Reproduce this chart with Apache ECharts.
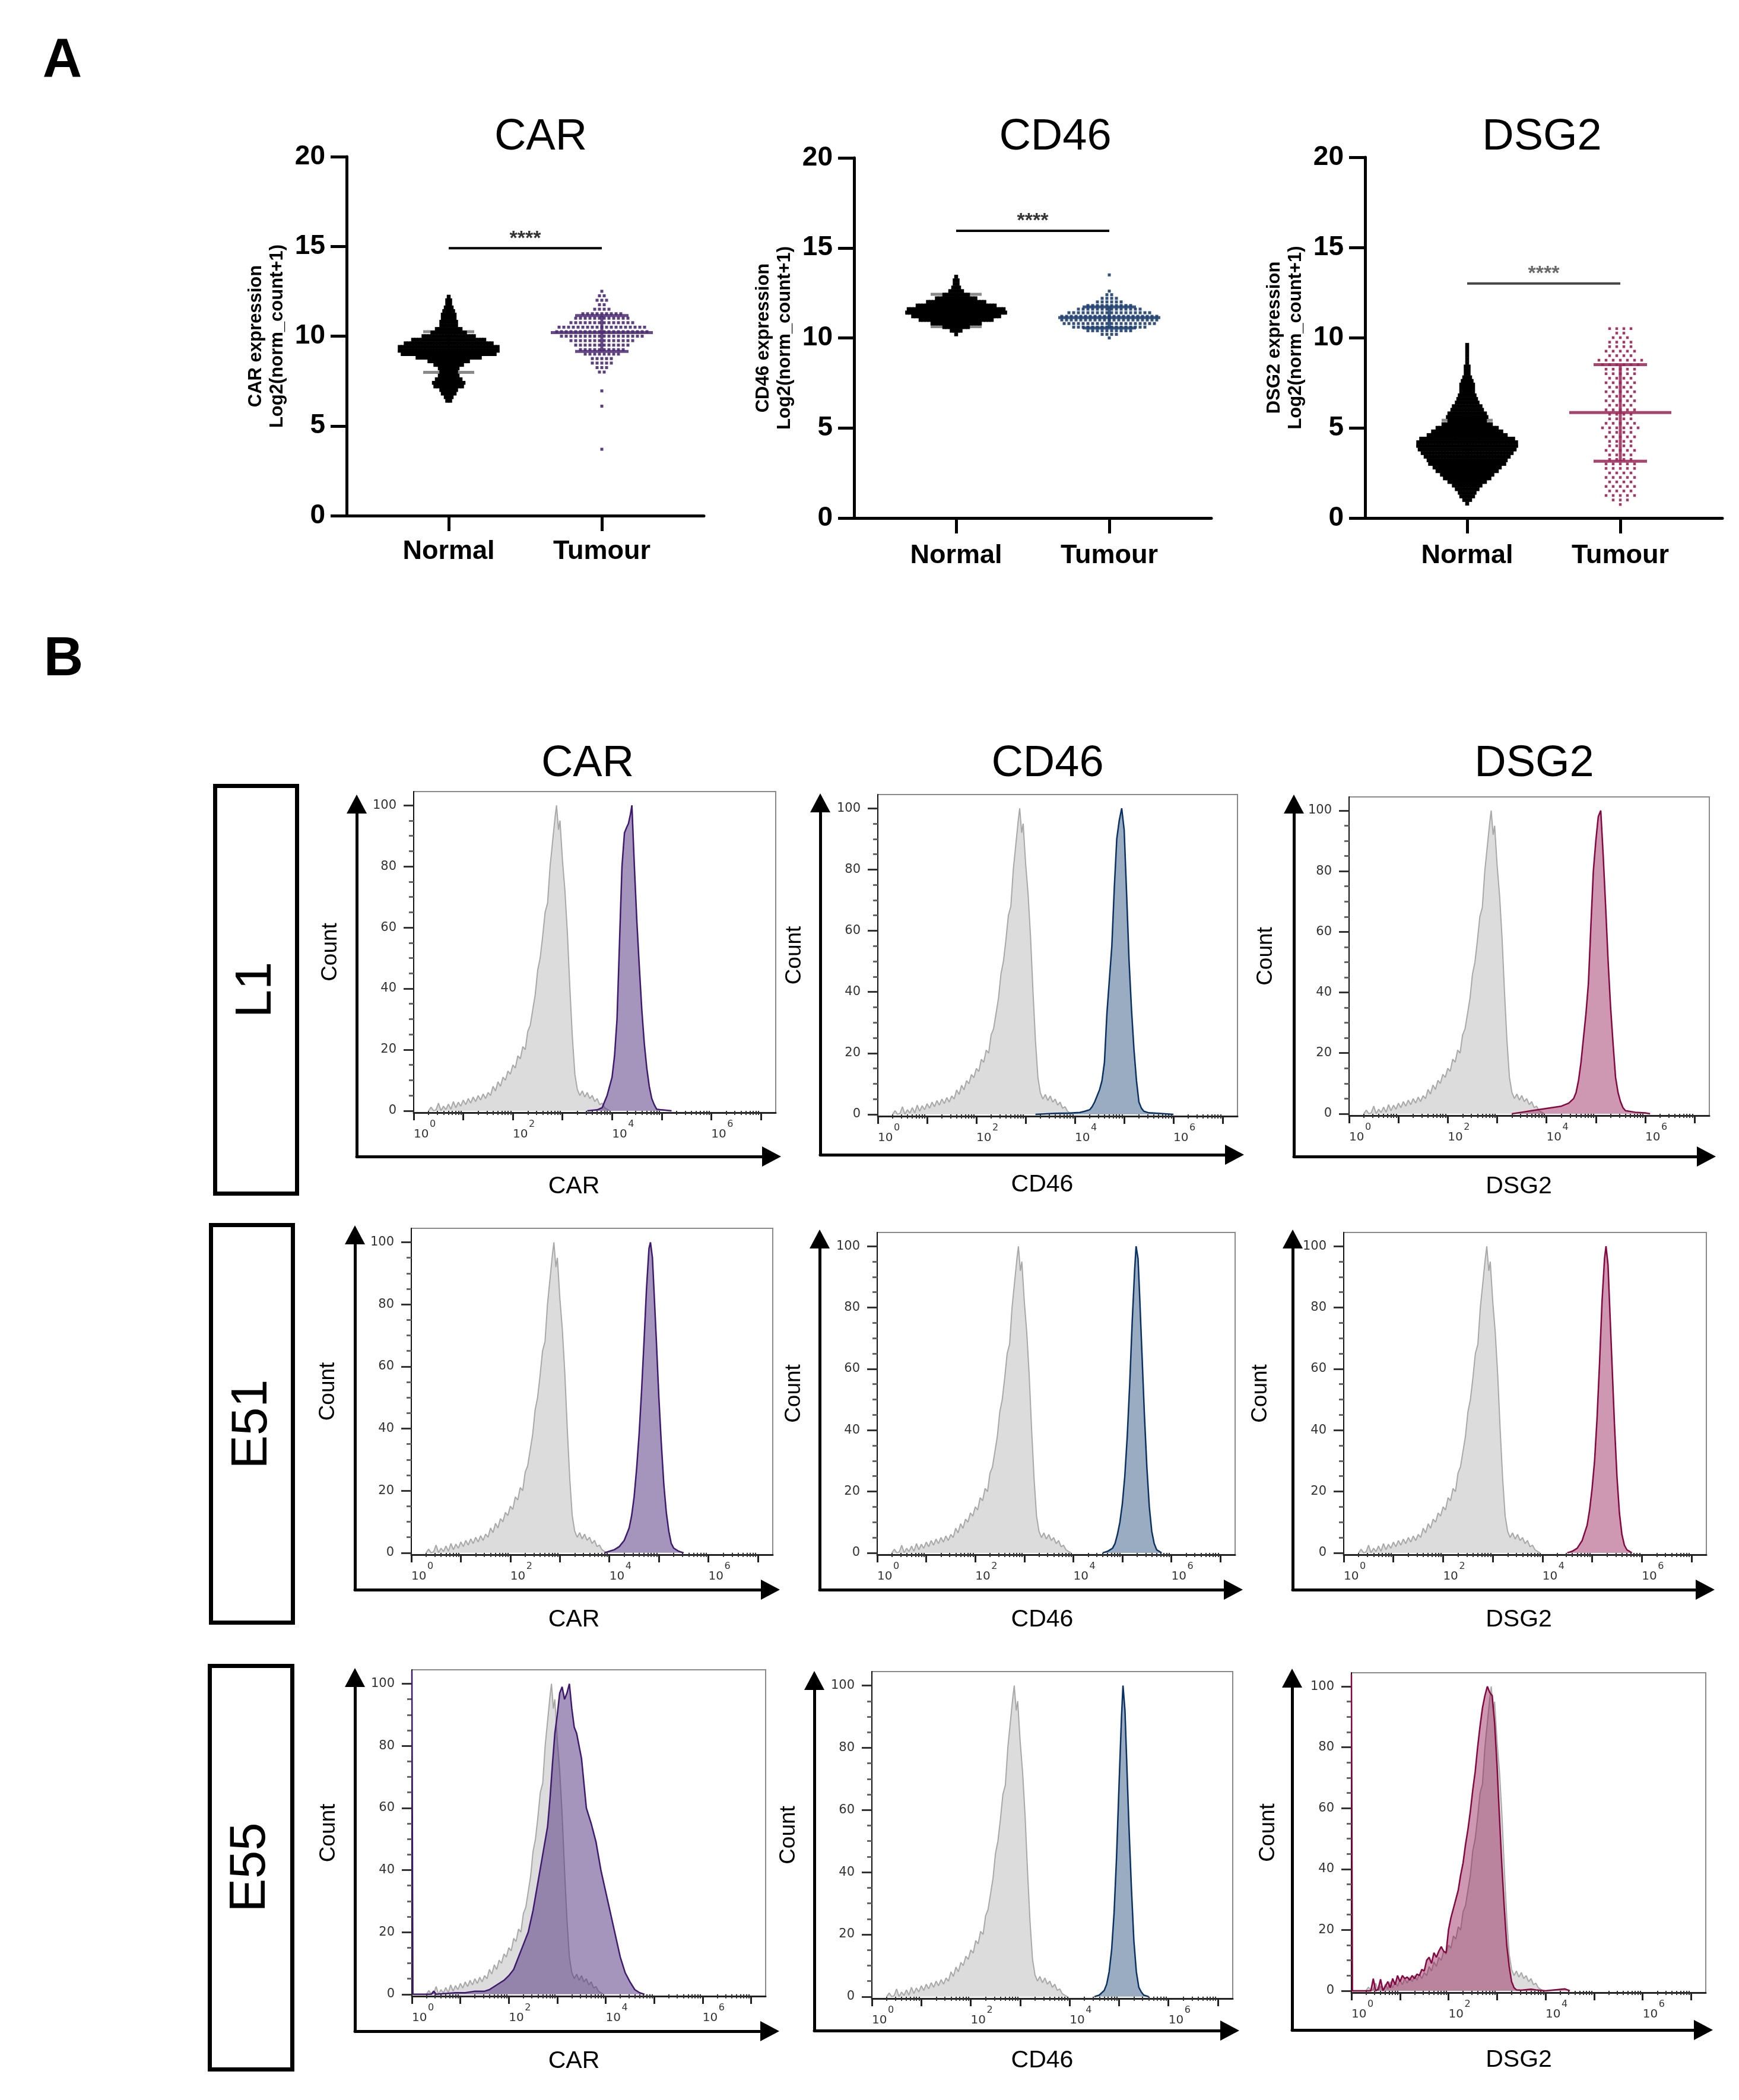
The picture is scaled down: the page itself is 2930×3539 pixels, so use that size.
<!DOCTYPE html>
<html>
<head>
<meta charset="utf-8">
<script src="https://cdn.jsdelivr.net/npm/echarts@6/dist/echarts.min.js"></script>
<style>html,body{margin:0;padding:0;background:#fff}#c{width:2930px;height:3539px}</style>
</head>
<body>
<div id="c"></div>
<script>
// ================= DATA: panel A (beeswarm: level -> number of dots in that row) =================
const groups = ['Normal', 'Tumour'];
const genes = ['CAR', 'CD46', 'DSG2'];

const carNormalLevels = [12.2,12.0,11.8,11.6,11.4,11.2,11.0,10.8,10.6,10.4,10.2,10.0,9.8,9.6,9.4,9.2,9.0,8.8,8.6,8.4,8.2,8.0,7.8,7.6,7.4,7.2,7.0,6.8,6.6,6.4];
const carNormalCounts = [1,2,2,3,4,5,5,6,6,9,12,18,25,30,34,34,32,22,14,10,7,6,7,9,11,10,6,5,3,2];
const carTumourLevels = [12.5,12.25,12.0,11.75,11.5,11.25,11.0,10.75,10.5,10.25,10.0,9.75,9.5,9.25,9.0,8.75,8.5,8.25,8.0,6.95,6.1,3.7];
const carTumourCounts = [1,2,3,2,4,9,12,14,19,20,18,14,12,10,8,5,5,3,2,1,1,1];

const cd46NormalLevels = [13.4,13.2,13.0,12.8,12.6,12.4,12.2,12.0,11.8,11.6,11.4,11.2,11.0,10.8,10.6,10.4,10.2];
const cd46NormalCounts = [1,2,2,3,5,9,14,20,27,33,34,30,25,17,9,4,1];
const cd46TumourLevels = [13.5,12.6,12.4,12.2,12.0,11.8,11.6,11.4,11.2,11.0,10.8,10.6,10.4,10.2,10.0];
const cd46TumourCounts = [1,1,2,4,6,10,14,18,21,21,20,16,10,4,1];

const dsg2NormalLevels = [9.6,9.4,9.2,9.0,8.8,8.6,8.4,8.2,8.0,7.8,7.6,7.4,7.2,7.0,6.8,6.6,6.4,6.2,6.0,5.8,5.6,5.4,5.2,5.0,4.8,4.6,4.4,4.2,4.0,3.8,3.6,3.4,3.2,3.0,2.8,2.6,2.4,2.2,2.0,1.8,1.6,1.4,1.2,1.0,0.8];
const dsg2NormalCounts = [1,1,1,1,1,1,2,2,2,3,4,5,5,5,6,7,8,10,11,13,14,13,17,21,24,27,32,34,34,33,31,29,27,26,23,21,18,16,13,10,8,6,5,3,1];
const dsg2TumourLevels = [10.5,10.25,10.0,9.75,9.5,9.25,9.0,8.75,8.5,8.25,8.0,7.75,7.5,7.25,7.0,6.75,6.5,6.25,6.0,5.75,5.5,5.25,5.0,4.75,4.5,4.25,4.0,3.75,3.5,3.25,3.0,2.75,2.5,2.25,2.0,1.75,1.5,1.25,1.0,0.75];
const dsg2TumourCounts = [4,2,3,4,4,5,4,7,6,5,5,4,5,4,5,4,5,4,5,4,4,5,6,4,5,4,4,5,4,4,5,5,4,5,4,5,4,5,3,1];

// mean and SD bars [Normal, Tumour]
const carMean = [9.15, 10.2],  carSdLow = [7.98, 9.15],  carSdHigh = [10.25, 11.15];
const cd46Mean = [11.45, 11.13], cd46SdLow = [10.63, 10.55], cd46SdHigh = [12.42, 11.72];
const dsg2Mean = [4.0, 5.85],  dsg2SdLow = [2.6, 3.15],  dsg2SdHigh = [5.42, 8.5];
const sigLevel = [14.9, 15.95, 13.0];
const sigText = '****';

// ================= DATA: panel B (flow histograms, [log10 intensity, % of max]) =================
const rowNames = ['L1', 'E51', 'E55'];
const countTicks = [0, 20, 40, 60, 80, 100];
const countMinorTicks = [5,10,15,25,30,35,45,50,55,65,70,75,85,90,95];
const decadeTicks = [0,1,2,3,4,5,6,7];
const labelDecades = [0, 2, 4, 6];
const decadeBase = '10';
const decadeExponents = ['0', '2', '4', '6'];

const isotypeControl = [[0.3,0],[0.35,1.2],[0.4,0],[0.45,0.3],[0.5,2.5],[0.55,0],[0.6,1.5],[0.65,0.4],[0.7,2.2],[0.75,0.5],[0.8,3],[0.85,1],[0.9,2.8],[0.95,1.5],[1.0,3.5],[1.05,2],[1.1,4],[1.15,2.5],[1.2,4.5],[1.25,3],[1.3,5],[1.35,3.5],[1.4,5.5],[1.45,4],[1.5,6],[1.55,5],[1.6,8],[1.65,6.5],[1.7,9.5],[1.75,8],[1.8,11],[1.85,10],[1.9,13],[1.95,12],[2.0,15],[2.05,14],[2.1,18],[2.15,17],[2.2,21],[2.25,20],[2.3,26],[2.35,28],[2.4,33],[2.45,38],[2.5,46],[2.55,50],[2.6,57],[2.65,65],[2.7,68],[2.75,80],[2.8,88],[2.85,96],[2.88,100],[2.92,92],[2.95,95],[3.0,82],[3.05,72],[3.1,58],[3.15,40],[3.2,24],[3.25,12],[3.3,7],[3.35,5],[3.4,6.5],[3.45,4.5],[3.5,6],[3.55,4],[3.6,5],[3.65,3],[3.7,4],[3.75,2],[3.8,2.5],[3.85,1],[3.9,0.5],[3.95,0]];

const l1Car = [[3.5,0],[3.7,0.3],[3.8,1],[3.9,5],[4.0,11],[4.05,18],[4.1,30],[4.15,55],[4.2,80],[4.25,91],[4.3,93],[4.33,94],[4.37,97],[4.4,100],[4.45,80],[4.5,62],[4.55,47],[4.6,33],[4.65,22],[4.7,14],[4.75,8],[4.8,4],[4.85,2],[4.9,0.5],[5.0,0.3],[5.2,0]];
const l1Cd46 = [[3.2,0],[3.6,0.3],[3.9,0.4],[4.0,0.5],[4.1,0.6],[4.2,1],[4.3,1.5],[4.35,2.5],[4.4,4],[4.45,6],[4.5,8],[4.55,11],[4.6,17],[4.65,33],[4.7,44],[4.75,55],[4.8,74],[4.85,90],[4.9,96],[4.95,100],[5.0,93],[5.05,72],[5.1,50],[5.15,34],[5.2,21],[5.25,11],[5.3,4],[5.35,2],[5.4,1],[5.5,0.5],[5.7,0.3],[6.0,0]];
const l1Dsg2 = [[3.3,0],[3.5,0.5],[3.7,1],[3.9,1.5],[4.1,2],[4.3,2.5],[4.45,3.5],[4.55,5],[4.6,7],[4.65,11],[4.7,17],[4.75,25],[4.8,33],[4.85,43],[4.9,62],[4.95,80],[5.0,90],[5.05,98],[5.1,100],[5.15,85],[5.2,68],[5.25,50],[5.3,35],[5.35,23],[5.4,12],[5.45,7],[5.5,4],[5.55,2],[5.6,1],[5.8,0.5],[6.0,0.3],[6.1,0]];
const e51Car = [[3.9,0],[4.0,0.5],[4.1,1],[4.2,2],[4.3,4],[4.4,8],[4.45,12],[4.5,18],[4.55,27],[4.6,38],[4.65,52],[4.7,68],[4.75,85],[4.8,98],[4.83,100],[4.87,95],[4.9,85],[4.95,68],[5.0,50],[5.05,35],[5.1,22],[5.15,13],[5.2,7],[5.25,3],[5.3,1.5],[5.4,0.5],[5.5,0]];
const e51Cd46 = [[4.6,0],[4.7,0.5],[4.8,1.5],[4.85,3],[4.9,6],[4.95,10],[5.0,16],[5.05,25],[5.1,38],[5.15,55],[5.2,75],[5.25,92],[5.28,100],[5.32,96],[5.35,85],[5.4,65],[5.45,45],[5.5,28],[5.55,15],[5.6,7],[5.65,3],[5.7,1],[5.8,0]];
const e51Dsg2 = [[4.5,0],[4.6,0.5],[4.7,1.5],[4.8,4],[4.9,9],[4.95,14],[5.0,21],[5.05,30],[5.1,44],[5.15,62],[5.2,82],[5.25,96],[5.28,100],[5.32,94],[5.35,82],[5.4,62],[5.45,42],[5.5,25],[5.55,13],[5.6,6],[5.65,2.5],[5.7,1],[5.8,0]];
const e55Car = [[0,104],[0.02,0],[0.4,0],[0.45,1],[0.5,0],[0.9,0.5],[1.1,0.5],[1.3,1],[1.5,1],[1.6,1.5],[1.7,2.5],[1.8,3.5],[1.9,4.5],[2.0,6],[2.1,8],[2.2,12],[2.3,16],[2.4,20],[2.5,27],[2.6,36],[2.7,45],[2.8,54],[2.85,63],[2.9,74],[2.95,84],[3.0,90],[3.05,97],[3.1,99],[3.15,95],[3.2,97],[3.25,100],[3.3,92],[3.35,86],[3.4,84],[3.5,76],[3.6,60],[3.7,55],[3.8,49],[3.9,40],[4.0,33],[4.1,26],[4.2,19],[4.3,12],[4.4,7],[4.5,4],[4.6,1.5],[4.7,0.5],[4.8,0]];
const e55Cd46 = [[4.5,0],[4.6,0.5],[4.7,2],[4.75,4],[4.8,8],[4.85,15],[4.9,27],[4.95,45],[5.0,68],[5.05,90],[5.08,100],[5.12,92],[5.15,78],[5.2,55],[5.25,35],[5.3,18],[5.35,8],[5.4,3],[5.45,1.5],[5.5,0.5],[5.6,0]];
const e55Dsg2 = [[0,104],[0.02,0],[0.4,0],[0.45,4],[0.5,0],[0.55,0.5],[0.6,3.8],[0.65,0],[0.75,3],[0.8,1],[0.85,4],[0.9,2],[0.95,5],[1.0,3],[1.05,5],[1.1,4],[1.15,4.5],[1.2,3.5],[1.25,5],[1.3,4],[1.35,5.5],[1.4,5],[1.45,7],[1.5,6.5],[1.55,10],[1.6,11],[1.65,9],[1.7,12.5],[1.75,11],[1.8,13],[1.85,14.5],[1.9,13],[1.95,12.5],[2.0,20],[2.05,24],[2.1,27],[2.15,30],[2.2,33],[2.25,38],[2.3,42],[2.35,48],[2.4,53],[2.45,59],[2.5,66],[2.55,72],[2.6,80],[2.65,87],[2.7,93],[2.75,97],[2.8,100],[2.85,98],[2.9,97],[2.95,88],[3.0,74],[3.05,57],[3.1,41],[3.15,27],[3.2,15],[3.25,8],[3.3,3],[3.35,1],[3.4,0.3],[3.5,0.2],[3.7,0.5],[3.8,0.3],[4.0,0],[4.4,0.6],[4.5,0]];

// ================= BUILD =================
const FONT = "'Liberation Sans', Arial, Helvetica, sans-serif";
const NARROW = "'Liberation Sans Narrow', 'Liberation Sans', Arial, sans-serif";
const DJ = "'DejaVu Sans', Verdana, sans-serif";

const opt = {animation:false, backgroundColor:'#ffffff', grid:[], xAxis:[], yAxis:[], series:[], graphic:[]};

function swarm(sp, size, color, opacity) {
  return function (params, api) {
    const c = api.coord([api.value(0), api.value(1)]);
    const n = api.value(2);
    const ch = [];
    for (let j = 0; j < n; j++) {
      const dx = (j - (n - 1) / 2) * sp;
      ch.push({type:'rect', shape:{x:c[0]+dx-size/2, y:c[1]-size/2, width:size, height:size}, style:{fill:color, opacity:opacity}});
    }
    return {type:'group', children:ch};
  };
}
function meanSd(hwMean, hwSd, color, lw, opacity) {
  return function (params, api) {
    const x = api.value(0);
    const pm = api.coord([x, api.value(1)]), pl = api.coord([x, api.value(2)]), ph = api.coord([x, api.value(3)]);
    const st = {stroke:color, lineWidth:lw, opacity:opacity};
    return {type:'group', children:[
      {type:'line', shape:{x1:pm[0], y1:pl[1], x2:pm[0], y2:ph[1]}, style:st},
      {type:'line', shape:{x1:pm[0]-hwMean, y1:pm[1], x2:pm[0]+hwMean, y2:pm[1]}, style:st},
      {type:'line', shape:{x1:pl[0]-hwSd, y1:pl[1], x2:pl[0]+hwSd, y2:pl[1]}, style:st},
      {type:'line', shape:{x1:ph[0]-hwSd, y1:ph[1], x2:ph[0]+hwSd, y2:ph[1]}, style:st}
    ]};
  };
}

// ---- Panel A ----
const aData = [
  [carNormalLevels, carNormalCounts, carTumourLevels, carTumourCounts, carMean, carSdLow, carSdHigh],
  [cd46NormalLevels, cd46NormalCounts, cd46TumourLevels, cd46TumourCounts, cd46Mean, cd46SdLow, cd46SdHigh],
  [dsg2NormalLevels, dsg2NormalCounts, dsg2TumourLevels, dsg2TumourCounts, dsg2Mean, dsg2SdLow, dsg2SdHigh]
];
const aColors = ['#4A2A70', '#1E3E6C', '#962656'];
const aSigColors = ['#000000', '#000000', '#454545'];
const aTumourSp = [8, 8, 12];
const aTumourSize = [5, 5, 4.5];
const aLeft = [584, 1439, 2300], aTop = [264, 266, 265], aHeight = [605, 607, 608];
const aTitleX = [911, 1778, 2598];
const aLabelMargin = [38, 41, 41];

for (let i = 0; i < 3; i++) {
  const g = opt.grid.length;
  opt.grid.push({left:aLeft[i], top:aTop[i], width:602, height:aHeight[i]});
  opt.xAxis.push({gridIndex:g, type:'value', min:1/3, max:8/3, position:'bottom',
    axisLine:{show:true, onZero:false, lineStyle:{color:'#000', width:5}},
    axisTick:{show:true, customValues:[1,2], length:26, lineStyle:{color:'#000', width:5}},
    axisLabel:{show:true, customValues:[1,2], formatter:function(v){return groups[Math.round(v)-1];},
      fontFamily:FONT, fontWeight:'bold', fontSize:45, color:'#000', margin:aLabelMargin[i]},
    splitLine:{show:false}});
  opt.yAxis.push({gridIndex:g, type:'value', min:0, max:20, interval:5, position:'left',
    axisLine:{show:true, onZero:false, lineStyle:{color:'#000', width:5}},
    axisTick:{show:true, length:27, lineStyle:{color:'#000', width:5}},
    axisLabel:{fontFamily:FONT, fontWeight:'bold', fontSize:46, color:'#000', margin:36},
    splitLine:{show:false},
    name: genes[i] + ' expression\nLog2(norm_count+1)', nameLocation:'middle', nameGap:99,
    nameTextStyle:{fontFamily:FONT, fontWeight:'bold', fontSize:31, lineHeight:36, color:'#000'}});
  const xi = opt.xAxis.length - 1, yi = opt.yAxis.length - 1;
  const d = aData[i];
  opt.series.push({type:'custom', name:groups[0]+' mean/SD', xAxisIndex:xi, yAxisIndex:yi, z:1,
    renderItem: meanSd(86, 43, '#8a8a8a', 5, 1), data:[[1, d[4][0], d[5][0], d[6][0]]]});
  opt.series.push({type:'custom', name:groups[0], xAxisIndex:xi, yAxisIndex:yi, z:2,
    renderItem: swarm(5, 6.5, '#000000', 1), data: d[0].map(function(l, k){return [1, l, d[1][k]];})});
  opt.series.push({type:'custom', name:groups[1], xAxisIndex:xi, yAxisIndex:yi, z:2,
    renderItem: swarm(aTumourSp[i], aTumourSize[i], aColors[i], 0.9), data: d[2].map(function(l, k){return [2, l, d[3][k]];})});
  opt.series.push({type:'custom', name:groups[1]+' mean/SD', xAxisIndex:xi, yAxisIndex:yi, z:3,
    renderItem: meanSd(86, 45, aColors[i], 5, 0.85), data:[[2, d[4][1], d[5][1], d[6][1]]]});
  opt.series.push({type:'line', xAxisIndex:xi, yAxisIndex:yi, z:4, symbol:'none', silent:true,
    lineStyle:{color:aSigColors[i], width:4}, data:[[1, sigLevel[i]], [2, sigLevel[i]]]});
  opt.series.push({type:'scatter', xAxisIndex:xi, yAxisIndex:yi, z:4, silent:true, symbolSize:1,
    itemStyle:{color:'rgba(0,0,0,0)'}, data:[[1.5, sigLevel[i]]],
    label:{show:true, position:'inside', offset:[0,-16], formatter:sigText, fontFamily:FONT, fontWeight:'bold', fontSize:34, color:aSigColors[i]}});
  opt.graphic.push({type:'text', x:aTitleX[i], y:232, style:{text:genes[i], fontFamily:FONT, fontSize:74, fill:'#000', align:'center', verticalAlign:'middle'}});
}

// ---- Panel B ----
const hist = [[l1Car, l1Cd46, l1Dsg2], [e51Car, e51Cd46, e51Dsg2], [e55Car, e55Cd46, e55Dsg2]];
const histColors = [{line:'#3E1A6E', fill:'#4B2C7A', a:0.5}, {line:'#0A3163', fill:'#0E3A6B', a:0.42}, {line:'#84073F', fill:'#8B0A4A', a:0.42}];
const minorDecadeTicks = [];
for (let dd = 0; dd < 8; dd++) for (let k = 2; k < 10; k++) { const v = dd + Math.log10(k); if (v < 7.28) minorDecadeTicks.push(v); }

// frame rectangles [left, top, right, bottom] and arrow axes [x, tipY, y, tipX]
const bFrames = [
  [[697,1334,1307,1875],[1479,1339,2085,1881],[2273,1343,2880,1880]],
  [[693,2070,1302,2620],[1478,2077,2081,2620],[2264,2077,2875,2620]],
  [[694,2814,1290,3364],[1469,2817,2077,3368],[2277,2819,2874,3358]]
];
const bArrows = [
  [[601,1339,1949,1316],[1382,1337,1946,2096],[2180,1339,1949,2891]],
  [[598,2065,2679,1314],[1381,2072,2679,2094],[2178,2072,2679,2889]],
  [[598,2811,3423,1313],[1372,2816,3422,2088],[2177,2812,3421,2886]]
];
const xNameCenters = [967, 1756, 2559];

for (let r = 0; r < 3; r++) {
  for (let c = 0; c < 3; c++) {
    const f = bFrames[r][c];
    const g = opt.grid.length;
    opt.grid.push({left:f[0], top:f[1], width:f[2]-f[0], height:f[3]-f[1], show:true, borderColor:'#8a8a8a', borderWidth:2, backgroundColor:'#ffffff'});
    opt.xAxis.push({gridIndex:g, type:'value', min:0, max:7.3, position:'bottom',
      axisLine:{show:true, onZero:false, lineStyle:{color:'#222', width:3}},
      axisTick:{show:true, customValues:decadeTicks, length:13, lineStyle:{color:'#222', width:3}},
      axisLabel:{show:true, customValues:labelDecades, align:'left', formatter:function(){return decadeBase;},
        fontFamily:DJ, fontSize:20, color:'#333', margin:27},
      splitLine:{show:false}});
    const xMaj = opt.xAxis.length - 1;
    opt.xAxis.push({gridIndex:g, type:'value', min:0, max:7.3, position:'bottom',
      axisLine:{show:false}, axisTick:{show:true, customValues:minorDecadeTicks, length:7, lineStyle:{color:'#333', width:2}},
      axisLabel:{show:true, customValues:labelDecades, align:'left', padding:[0,0,0,27],
        formatter:function(v){return decadeExponents[labelDecades.indexOf(Math.round(v))];},
        fontFamily:DJ, fontSize:16, color:'#333', margin:12},
      splitLine:{show:false}});
    opt.yAxis.push({gridIndex:g, type:'value', min:-0.6, max:104.5, position:'left',
      axisLine:{show:true, onZero:false, lineStyle:{color:'#111', width:2}},
      axisTick:{show:true, customValues:countTicks, length:17, lineStyle:{color:'#333', width:3}},
      axisLabel:{show:true, customValues:countTicks, fontFamily:DJ, fontSize:21, color:'#333', margin:29},
      splitLine:{show:false},
      name:'Count', nameLocation:'middle', nameGap:122, nameTextStyle:{fontFamily:FONT, fontSize:37, color:'#000'}});
    const yMaj = opt.yAxis.length - 1;
    opt.yAxis.push({gridIndex:g, type:'value', min:-0.6, max:104.5, position:'left',
      axisLine:{show:false}, axisTick:{show:true, customValues:countMinorTicks, length:8, lineStyle:{color:'#666', width:3}},
      axisLabel:{show:false}, splitLine:{show:false}});
    opt.series.push({type:'line', name:'Isotype control', xAxisIndex:xMaj, yAxisIndex:yMaj, z:2, symbol:'none', silent:true,
      lineStyle:{color:'#A8A8A8', width:2}, areaStyle:{color:'#DCDCDC', opacity:1}, data:isotypeControl});
    const hc = histColors[c];
    opt.series.push({type:'line', name:rowNames[r]+' '+genes[c], xAxisIndex:xMaj, yAxisIndex:yMaj, z:3, symbol:'none', silent:true,
      lineStyle:{color:hc.line, width:2.5}, areaStyle:{color:hc.fill, opacity:hc.a}, data:hist[r][c]});

    // arrow axes
    const a = bArrows[r][c];
    const ga = opt.grid.length;
    opt.grid.push({left:a[0], top:a[1]+16, width:a[3]-16-a[0], height:a[2]-(a[1]+16)});
    const shift = xNameCenters[c] - (a[0] + a[3] - 16) / 2;
    opt.xAxis.push({gridIndex:ga, type:'value', min:0, max:1, position:'bottom',
      axisLine:{show:true, onZero:false, symbol:['none','triangle'], symbolSize:[34,32], lineStyle:{color:'#000', width:5}},
      axisTick:{show:false}, axisLabel:{show:false}, splitLine:{show:false},
      name:genes[c], nameLocation:'middle', nameGap:30,
      nameTextStyle:{fontFamily:FONT, fontSize:41, color:'#000', padding: shift >= 0 ? [0,0,0,2*shift] : [0,-2*shift,0,0]}});
    opt.yAxis.push({gridIndex:ga, type:'value', min:0, max:1, position:'left',
      axisLine:{show:true, onZero:false, symbol:['none','triangle'], symbolSize:[34,32], lineStyle:{color:'#000', width:5}},
      axisTick:{show:false}, axisLabel:{show:false}, splitLine:{show:false}});
  }
}

// column titles of panel B
const bTitleX = [990, 1765, 2585];
for (let c = 0; c < 3; c++) {
  opt.graphic.push({type:'text', x:bTitleX[c], y:1288, style:{text:genes[c], fontFamily:FONT, fontSize:74, fill:'#000', align:'center', verticalAlign:'middle'}});
}
// row label boxes
const rowBoxes = [[362.5,1324.5,138,687],[355.5,2064.5,138,670],[353.5,2807.5,139,680]];
const rowTextPos = [[433,1668],[426,2400],[423,3147]];
for (let r = 0; r < 3; r++) {
  const b = rowBoxes[r];
  opt.graphic.push({type:'rect', shape:{x:b[0], y:b[1], width:b[2], height:b[3]}, style:{fill:'none', stroke:'#000', lineWidth:7}});
  opt.graphic.push({type:'text', x:rowTextPos[r][0], y:rowTextPos[r][1], rotation:Math.PI/2,
    style:{text:rowNames[r], fontFamily:NARROW, fontSize:85, fill:'#000', align:'center', verticalAlign:'middle'}});
}
// panel letters
opt.graphic.push({type:'text', x:105, y:104, style:{text:'A', fontFamily:FONT, fontWeight:'bold', fontSize:92, fill:'#000', align:'center', verticalAlign:'middle'}});
opt.graphic.push({type:'text', x:107, y:1113, style:{text:'B', fontFamily:FONT, fontWeight:'bold', fontSize:92, fill:'#000', align:'center', verticalAlign:'middle'}});

const chart = echarts.init(document.getElementById('c'), null, {renderer:'canvas'});
chart.setOption(opt);
</script>
</body>
</html>
